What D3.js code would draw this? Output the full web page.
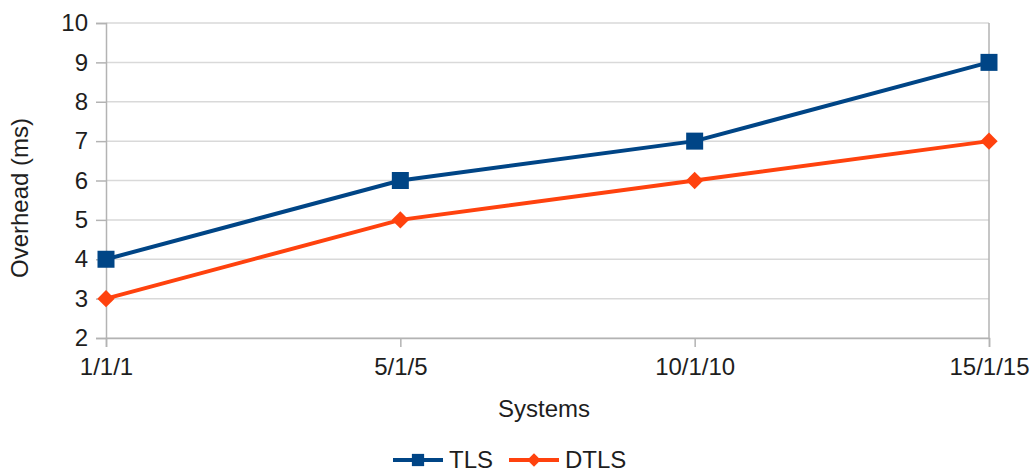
<!DOCTYPE html>
<html>
<head>
<meta charset="utf-8">
<script src="https://cdn.jsdelivr.net/npm/d3@7"></script>
<style>
  body { margin: 0; background: #fff; }
  svg { display: block; font-family: "Liberation Sans", Arial, sans-serif; }
</style>
</head>
<body>
<svg id="chart" width="1032" height="470"></svg>
<script>
const categories = ["1/1/1", "5/1/5", "10/1/10", "15/1/15"];
const tlsValues = [4, 6, 7, 9];
const dtlsValues = [3, 5, 6, 7];
const yTicks = [2, 3, 4, 5, 6, 7, 8, 9, 10];

// square rotated 45 degrees, equal width and height
const symbolRhombus = {
  draw(context, size) {
    const r = Math.sqrt(size / 2);
    context.moveTo(0, -r);
    context.lineTo(r, 0);
    context.lineTo(0, r);
    context.lineTo(-r, 0);
    context.closePath();
  }
};

const series = [
  { name: "TLS", values: tlsValues, color: "#004586", symbol: d3.symbolSquare, size: 289, legendSize: 150 },
  { name: "DTLS", values: dtlsValues, color: "#ff420e", symbol: symbolRhombus, size: 150, legendSize: 90 }
];

const svg = d3.select("#chart");
const plot = { left: 106, right: 989, top: 23, bottom: 338 };
const fontSize = 24;
const textColor = "#1e1e1e";

const x = d3.scalePoint().domain(categories).range([plot.left, plot.right]).padding(0);
const y = d3.scaleLinear().domain([2, 10]).range([plot.bottom, plot.top]);

const gridColor = "#d9d9d9";
const axisColor = "#b3b3b3";

// horizontal gridlines
svg.append("g").selectAll("line").data(yTicks).join("line")
  .attr("x1", plot.left).attr("x2", plot.right)
  .attr("y1", d => y(d)).attr("y2", d => y(d))
  .attr("stroke", gridColor).attr("stroke-width", 1.5);

// y axis
const yAxis = svg.append("g").attr("transform", `translate(${plot.left},0)`)
  .call(d3.axisLeft(y).tickValues(yTicks).tickSize(10).tickPadding(8).tickFormat(d3.format("d")));
// x axis
const xAxis = svg.append("g").attr("transform", `translate(0,${plot.bottom})`)
  .call(d3.axisBottom(x).tickSize(9).tickPadding(11));

[yAxis, xAxis].forEach(g => {
  g.attr("font-size", fontSize).attr("font-family", "Liberation Sans, Arial, sans-serif");
  g.select(".domain").attr("stroke", axisColor).attr("stroke-width", 1.5);
  g.selectAll(".tick line").attr("stroke", axisColor).attr("stroke-width", 1.5);
  g.selectAll(".tick text").attr("fill", textColor);
});

// right border
svg.append("line")
  .attr("x1", plot.right).attr("x2", plot.right)
  .attr("y1", plot.top).attr("y2", plot.bottom)
  .attr("stroke", axisColor).attr("stroke-width", 1.5);

// series lines and markers
const line = d3.line().x((d, i) => x(categories[i])).y(d => y(d));
series.forEach(s => {
  svg.append("path").datum(s.values)
    .attr("d", line).attr("fill", "none")
    .attr("stroke", s.color).attr("stroke-width", 4);
  svg.append("g").selectAll("path").data(s.values).join("path")
    .attr("d", d3.symbol().type(s.symbol).size(s.size))
    .attr("transform", (d, i) => `translate(${x(categories[i])},${y(d)})`)
    .attr("fill", s.color);
});

// axis titles
svg.append("text")
  .attr("transform", `translate(28,198) rotate(-90)`)
  .attr("text-anchor", "middle").attr("font-size", fontSize).attr("fill", textColor)
  .text("Overhead (ms)");
svg.append("text")
  .attr("x", 544).attr("y", 417)
  .attr("text-anchor", "middle").attr("font-size", fontSize).attr("fill", textColor)
  .text("Systems");

// legend
const legendX = [393, 509];
const legend = svg.append("g");
series.forEach((s, i) => {
  const g = legend.append("g").attr("transform", `translate(${legendX[i]},460)`);
  g.append("line").attr("x1", 0).attr("x2", 50).attr("y1", 0).attr("y2", 0)
    .attr("stroke", s.color).attr("stroke-width", 4);
  g.append("path").attr("d", d3.symbol().type(s.symbol).size(s.legendSize))
    .attr("transform", "translate(25,0)").attr("fill", s.color);
  g.append("text").attr("x", 56).attr("y", 7.5)
    .attr("font-size", fontSize).attr("fill", textColor).text(s.name);
});
</script>
</body>
</html>
